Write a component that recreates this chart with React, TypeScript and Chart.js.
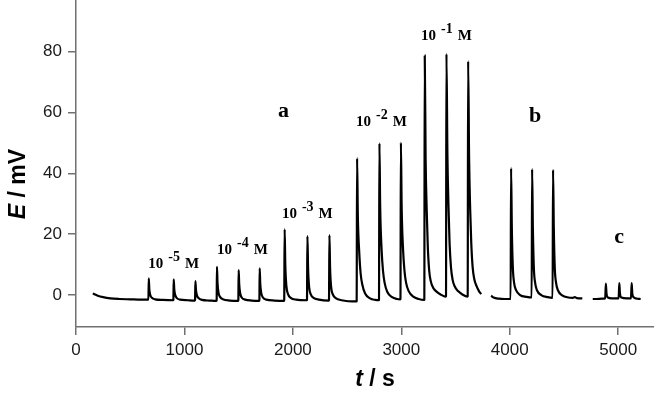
import { useEffect, useRef } from 'react';
import { Chart, registerables } from 'chart.js';

Chart.register(...registerables);

// Potential-time trace, run a (stepwise concentration increase), [t in s, E in mV]
const traceA: [number, number][] = [
  [155, 0.5], [200, -0.2], [250, -0.7], [317, -1.1], [400, -1.3], [500, -1.4], [600, -1.5], [665, -1.5],
  // 10^-5 M
  [668, -1.5], [671, 5.5], [676, 2.0], [685, 0.0], [700, -0.9], [730, -1.4], [800, -1.6], [895, -1.7],
  [898, -1.6], [901, 5.2], [906, 2.0], [915, 0.0], [930, -1.0], [960, -1.5], [1030, -1.7], [1095, -1.8],
  [1098, -1.6], [1101, 4.6], [1106, 1.8], [1115, -0.1], [1130, -1.0], [1160, -1.6], [1230, -1.8], [1295, -1.9],
  // 10^-4 M
  [1297, -1.7], [1300, 9.3], [1305, 4.0], [1314, 0.8], [1328, -0.6], [1355, -1.4], [1420, -1.8], [1495, -1.9],
  [1497, -1.7], [1500, 8.2], [1505, 3.6], [1514, 0.6], [1528, -0.8], [1560, -1.5], [1620, -1.8], [1689, -1.9],
  [1691, -1.7], [1694, 8.8], [1699, 3.8], [1708, 0.7], [1722, -0.7], [1755, -1.5], [1830, -1.8], [1918, -1.9],
  // 10^-3 M
  [1920, -1.7], [1924, 21.6], [1930, 10.0], [1940, 3.0], [1955, 0.3], [1980, -0.9], [2030, -1.5], [2128, -1.7],
  [2130, -1.6], [2134, 19.4], [2140, 9.0], [2150, 2.6], [2165, 0.2], [2190, -0.9], [2240, -1.5], [2331, -1.8],
  [2333, -1.6], [2337, 19.7], [2343, 9.0], [2353, 2.6], [2368, 0.2], [2395, -1.0], [2450, -1.7], [2586, -2.1],
  // 10^-2 M
  [2588, -2.0], [2592, 45.0], [2599, 26.0], [2612, 14.0], [2625, 7.0], [2640, 3.5], [2666, 0.5], [2712, -1.1], [2760, -1.6], [2792, -1.7],
  [2794, -1.6], [2798, 49.9], [2805, 29.0], [2818, 15.0], [2831, 8.0], [2846, 4.0], [2871, 1.0], [2915, -0.7], [2960, -1.3], [2990, -1.4],
  [2992, -1.3], [2996, 50.1], [3003, 29.0], [3016, 15.0], [3029, 8.0], [3044, 4.0], [3069, 1.2], [3110, -0.5], [3160, -1.3], [3210, -1.6],
  // 10^-1 M
  [3212, -1.5], [3216, 78.7], [3224, 45.0], [3234, 28.0], [3244, 16.0], [3257, 8.0], [3272, 4.5], [3292, 2.5], [3322, 1.2], [3362, 0.2], [3410, -0.5],
  [3412, -0.4], [3416, 79.3], [3425, 46.0], [3435, 29.0], [3445, 17.0], [3458, 9.0], [3473, 5.0], [3493, 2.8], [3523, 1.3], [3563, 0.2], [3610, -0.5],
  [3612, -0.4], [3616, 76.9], [3625, 45.0], [3635, 28.0], [3645, 17.0], [3658, 9.0], [3673, 5.2], [3693, 3.0], [3716, 1.3], [3736, 0.3],
];

// Run b: repeated 10^-2 M injections
const traceB: [number, number][] = [
  [3828, -0.2], [3850, -0.8], [3900, -1.2], [3950, -1.3], [4008, -1.3],
  [4012, 41.7], [4019, 22.0], [4028, 9.3], [4040, 4.0], [4058, 1.6], [4095, 0.0], [4156, -0.6], [4202, -0.8],
  [4206, 41.4], [4213, 22.0], [4222, 9.0], [4234, 4.0], [4252, 1.5], [4290, 0.0], [4350, -0.7], [4395, -0.9],
  [4399, 41.2], [4406, 22.0], [4415, 9.0], [4427, 4.0], [4445, 1.5], [4483, -0.1], [4540, -0.8], [4580, -0.9],
  [4600, -0.7], [4620, -1.0], [4669, -1.1],
];

// Run c: control injections
const traceC: [number, number][] = [
  [4765, -1.3], [4800, -1.3], [4850, -1.2], [4880, -1.1],
  [4886, 3.8], [4892, 0.5], [4905, -0.8], [4940, -1.1], [5004, -1.1],
  [5010, 3.9], [5016, 0.5], [5030, -0.8], [5080, -1.1], [5118, -1.1],
  [5124, 3.9], [5130, 0.5], [5145, -0.8], [5180, -1.2], [5207, -1.3],
];

const xTicks = [0, 1000, 2000, 3000, 4000, 5000];
const yTicks = [0, 20, 40, 60, 80];

// Concentration labels: exponent, anchor (t, E) at the left end of the text baseline
const concExponents = ['-5', '-4', '-3', '-2', '-1'];
const concT = [666, 1300, 1899, 2583, 3182];
const concE = [8.9, 13.5, 25.2, 55.6, 83.9];

// Run letters, centred on (t, E) baseline
const runLetters = ['a', 'b', 'c'];
const runT = [1913, 4233, 5008];
const runE = [58.7, 57.0, 17.0];

const SANS = '"Liberation Sans", Arial, sans-serif';
const SERIF = '"Liberation Serif", "Times New Roman", serif';
const AXIS_COLOR = '#707070';

const textPlugin = {
  id: 'chartText',
  afterDatasetsDraw(chart: any) {
    const { ctx, scales } = chart;
    const xs = scales.x;
    const ys = scales.y;
    ctx.save();
    ctx.fillStyle = '#000';
    ctx.textBaseline = 'alphabetic';
    ctx.textAlign = 'left';

    // concentration labels "10^-n M"
    concExponents.forEach((exp, i) => {
      let x = xs.getPixelForValue(concT[i]);
      const y = ys.getPixelForValue(concE[i]);
      ctx.font = `bold 15px ${SERIF}`;
      ctx.fillText('10', x, y);
      x += ctx.measureText('10').width + 5;
      ctx.font = `bold 14px ${SERIF}`;
      ctx.fillText(exp, x, y - 7);
      x += ctx.measureText(exp).width + 5;
      ctx.font = `bold 15px ${SERIF}`;
      ctx.fillText('M', x, y);
    });

    // run letters
    ctx.textAlign = 'center';
    ctx.font = `bold 22px ${SERIF}`;
    runLetters.forEach((l, i) => {
      ctx.fillText(l, xs.getPixelForValue(runT[i]), ys.getPixelForValue(runE[i]));
    });

    // axis titles with italic symbols
    const drawTitle = (sym: string, rest: string, cx: number, baseY: number) => {
      ctx.textAlign = 'left';
      ctx.font = `italic bold 23px ${SANS}`;
      const w1 = ctx.measureText(sym).width;
      ctx.font = `bold 23px ${SANS}`;
      const w2 = ctx.measureText(rest).width;
      const x0 = cx - (w1 + w2) / 2;
      ctx.font = `italic bold 23px ${SANS}`;
      ctx.fillText(sym, x0, baseY);
      ctx.font = `bold 23px ${SANS}`;
      ctx.fillText(rest, x0 + w1, baseY);
    };
    drawTitle('t', ' / s', 375, 386);
    ctx.save();
    ctx.translate(25, 184);
    ctx.rotate(-Math.PI / 2);
    drawTitle('E', ' / mV', 0, 0);
    ctx.restore();

    ctx.restore();
  },
};

export default function App() {
  const ref = useRef<HTMLCanvasElement>(null);

  useEffect(() => {
    if (!ref.current) return;
    const series = (arr: [number, number][]) => ({
      data: arr.map(([x, y]) => ({ x, y })),
      borderColor: '#000',
      borderWidth: 2.2,
      pointRadius: 0,
      showLine: true,
      fill: false,
      cubicInterpolationMode: 'monotone' as const,
    });
    const tickFont = { family: SANS, size: 17 };
    const chart = new Chart(ref.current, {
      type: 'scatter',
      data: { datasets: [series(traceA), series(traceB), series(traceC)] },
      options: {
        animation: false,
        responsive: false,
        devicePixelRatio: 1,
        layout: { padding: 0 },
        plugins: { legend: { display: false }, tooltip: { enabled: false } },
        scales: {
          x: {
            type: 'linear',
            min: 0,
            max: 5330,
            afterBuildTicks: (s: any) => {
              s.ticks = xTicks.map((value) => ({ value }));
            },
            afterFit: (s: any) => {
              s.height = 67;
              s.paddingLeft = 0;
              s.paddingRight = 0;
            },
            ticks: {
              font: tickFont,
              color: '#1a1a1a',
              padding: 5,
              maxRotation: 0,
              autoSkip: false,
              callback: (v: any) => String(v),
            },
            grid: { drawOnChartArea: false, tickLength: 8, color: AXIS_COLOR, lineWidth: 1.5 },
            border: { color: AXIS_COLOR, width: 1.5 },
          },
          y: {
            type: 'linear',
            min: -10.5,
            max: 97,
            afterBuildTicks: (s: any) => {
              s.ticks = yTicks.map((value) => ({ value }));
            },
            afterFit: (s: any) => {
              s.width = 76;
              s.paddingTop = 0;
              s.paddingBottom = 0;
            },
            ticks: {
              font: tickFont,
              color: '#1a1a1a',
              padding: 6,
              autoSkip: false,
              callback: (v: any) => String(v),
            },
            grid: { drawOnChartArea: false, tickLength: 8, color: AXIS_COLOR, lineWidth: 1.5 },
            border: { color: AXIS_COLOR, width: 1.5 },
          },
        },
      },
      plugins: [textPlugin],
    });
    return () => chart.destroy();
  }, []);

  return (
    <div style={{ position: 'absolute', left: 0, top: 0, width: 654, height: 394, background: '#fff' }}>
      <canvas ref={ref} width={654} height={394} style={{ display: 'block' }} />
    </div>
  );
}
